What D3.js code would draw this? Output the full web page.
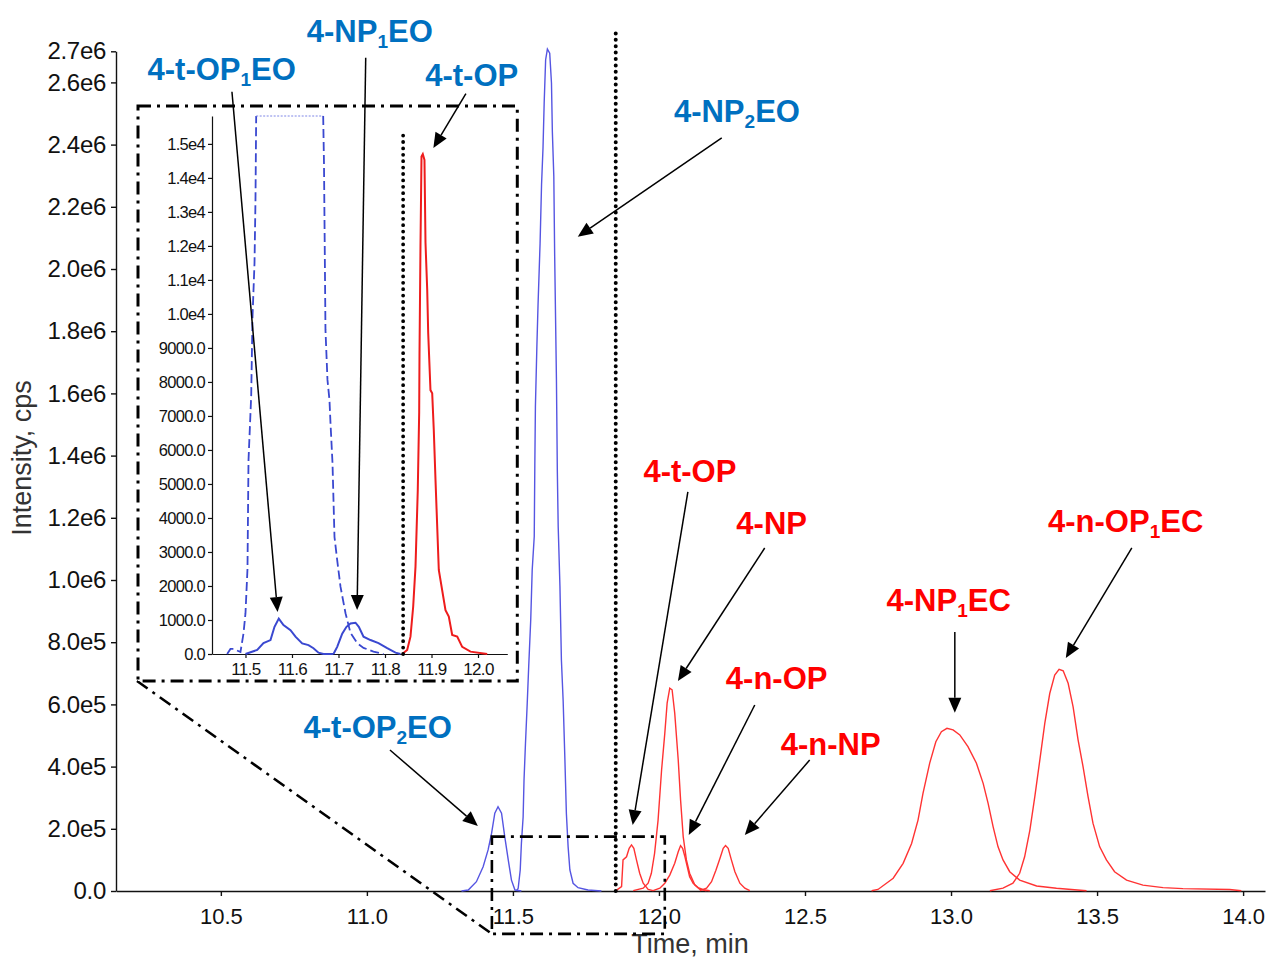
<!DOCTYPE html>
<html>
<head>
<meta charset="utf-8">
<script src="https://cdn.jsdelivr.net/npm/d3@7"></script>
<style>
  html, body { margin: 0; padding: 0; background: #fff; }
  svg { display: block; font-family: Arial, "Liberation Sans", sans-serif; }
</style>
</head>
<body>
<svg id="chart" width="1271" height="958"></svg>
<script>
// ---------- Main chromatogram traces: [retention time (min), intensity (cps)] ----------
const tOP2EO = [[11.324,0],[11.347,3200],[11.375,30000],[11.398,78000],[11.415,132000],[11.427,186000],
  [11.438,250000],[11.449,271000],[11.461,250000],[11.472,175000],[11.484,100000],[11.495,35000],
  [11.507,3000],[11.529,0]];

const np1EO = [[11.512,0],[11.518,8700],[11.525,67500],[11.529,153000],[11.535,239000],[11.538,357000],
  [11.543,475000],[11.549,604000],[11.554,721000],[11.561,872000],[11.566,1032000],[11.573,1140000],
  [11.575,1370000],[11.577,1558000],[11.582,1751000],[11.586,1885000],[11.593,2083000],[11.598,2271000],
  [11.603,2389000],[11.607,2534000],[11.612,2673000],[11.618,2707000],[11.626,2694000],[11.632,2598000],
  [11.635,2442000],[11.640,2298000],[11.643,2040000],[11.649,1644000],[11.652,1354000],[11.655,1172000],
  [11.661,979000],[11.666,743000],[11.672,611000],[11.678,421000],[11.683,250000],[11.689,142000],
  [11.695,67500],[11.706,24800],[11.723,10600],[11.757,3200],[11.803,0]];

const tOP = [[11.855,3000],[11.872,14000],[11.877,100000],[11.889,110000],[11.898,137000],[11.906,148000],
  [11.914,137000],[11.923,100000],[11.934,57000],[11.946,25000],[11.963,5000],[11.980,1000]];

const nP = [[11.912,1000],[11.946,9000],[11.963,25000],[11.974,57000],[11.985,121000],[11.997,228000],
  [12.009,389000],[12.020,507000],[12.028,604000],[12.037,652000],[12.045,647000],[12.054,572000],
  [12.066,421000],[12.074,293000],[12.083,175000],[12.094,100000],[12.105,57000],[12.123,19000],
  [12.140,5000],[12.163,1000]];

const nOP = [[11.980,1000],[12.003,9000],[12.020,25000],[12.037,51000],[12.054,89000],[12.066,126000],
  [12.074,146000],[12.081,137000],[12.089,110000],[12.097,78000],[12.105,46000],[12.117,25000],
  [12.134,11000],[12.157,3000],[12.174,1000]];

const nNP = [[12.140,1000],[12.163,9000],[12.180,30000],[12.195,67000],[12.209,105000],[12.220,137000],
  [12.228,146000],[12.237,137000],[12.248,100000],[12.260,62000],[12.277,25000],[12.294,9000],[12.311,1000]];

const np1EC = [[12.728,1000],[12.750,5000],[12.802,41000],[12.836,89000],[12.865,153000],[12.887,228000],
  [12.904,314000],[12.927,411000],[12.948,480000],[12.967,512000],[12.986,523000],[13.007,518000],
  [13.030,502000],[13.058,464000],[13.087,411000],[13.110,346000],[13.127,282000],[13.144,207000],
  [13.161,142000],[13.178,100000],[13.201,62000],[13.235,35000],[13.293,16000],[13.361,9000],[13.464,1000]];

const nOP1EC = [[13.133,1000],[13.178,9000],[13.212,25000],[13.235,57000],[13.252,110000],[13.270,196000],
  [13.287,304000],[13.304,421000],[13.321,539000],[13.338,635000],[13.355,694000],[13.370,713000],
  [13.384,708000],[13.401,668000],[13.418,592000],[13.435,486000],[13.452,400000],[13.469,304000],
  [13.486,218000],[13.509,142000],[13.532,100000],[13.560,62000],[13.601,35000],[13.657,19000],
  [13.726,11000],[13.794,7500],[13.954,5000],[13.994,1000]];

// ---------- Enlarged view (11.43–12.06 min) ----------
const zoomNP1EORise = [[11.4606,0],[11.4677,150],[11.4742,150],[11.4892,60],[11.4957,600],[11.5000,1200],
  [11.5043,2500],[11.5065,5700],[11.5108,7100],[11.5123,7600],[11.5151,9900],[11.5194,11500],
  [11.5215,13350],[11.5230,15820]];
const zoomNP1EOTop = [[11.5230,15820],[11.6671,15820]];
const zoomNP1EOFall = [[11.6671,15820],[11.6688,14440],[11.6699,12760],[11.6720,9530],[11.6763,8060],
  [11.6806,7470],[11.6828,6790],[11.6871,5620],[11.6914,3440],[11.6972,2760],[11.7043,1980],
  [11.7151,1200],[11.7258,620],[11.7402,320],[11.7538,180],[11.7753,70],[11.7968,0]];

const zoomTOP1EO = [[11.5000,0],[11.5252,120],[11.5387,320],[11.5538,410],[11.5624,800],[11.5716,1040],
  [11.5817,850],[11.5968,700],[11.6075,510],[11.6219,310],[11.6355,260],[11.6462,170],[11.6570,40],
  [11.6677,0],[11.6892,0]];
const zoomNP1EOLow = [[11.6892,0],[11.6972,210],[11.7080,600],[11.7172,800],[11.7258,900],[11.7366,920],
  [11.7437,800],[11.7538,510],[11.7688,410],[11.7860,320],[11.8047,170],[11.8226,40],[11.8333,0]];

const zoomTOP = [[11.8370,0],[11.8477,120],[11.8548,510],[11.8606,1390],[11.8656,2570],[11.8705,4820],
  [11.8735,7090],[11.8742,8850],[11.8763,11980],[11.8785,14630],[11.8813,14700],[11.8849,14530],
  [11.8871,12090],[11.8908,10700],[11.8929,9440],[11.8978,7760],[11.9015,7670],[11.9049,6590],
  [11.9086,5120],[11.9157,2470],[11.9301,1290],[11.9372,1100],[11.9445,560],[11.9553,510],
  [11.9660,210],[11.9839,70],[12.0198,0]];

// ---------- Axis ticks ----------
const xMainTicks = [10.5, 11.0, 11.5, 12.0, 12.5, 13.0, 13.5, 14.0];
const yMainTicks = [0, 2e5, 4e5, 6e5, 8e5, 1e6, 1.2e6, 1.4e6, 1.6e6, 1.8e6, 2.0e6, 2.2e6, 2.4e6, 2.6e6, 2.7e6];
const yMainLabels = ["0.0","2.0e5","4.0e5","6.0e5","8.0e5","1.0e6","1.2e6","1.4e6","1.6e6","1.8e6",
  "2.0e6","2.2e6","2.4e6","2.6e6","2.7e6"];
const xZoomTicks = [11.5, 11.6, 11.7, 11.8, 11.9, 12.0];
const yZoomTicks = [0,1000,2000,3000,4000,5000,6000,7000,8000,9000,10000,11000,12000,13000,14000,15000];
const yZoomLabels = ["0.0","1000.0","2000.0","3000.0","4000.0","5000.0","6000.0","7000.0","8000.0",
  "9000.0","1.0e4","1.1e4","1.2e4","1.3e4","1.4e4","1.5e4"];

// Marker times (dotted lines) and the enlarged window
const splitTime = 11.852;
const zoomSplitTime = 11.839;
const zoomWindowTime = [11.428, 12.02];
const zoomWindowIntensity = [-1.38e5, 1.75e5];

// ---------- Peak labels ----------
const peakNames = [
  ["4-NP","1","EO"], ["4-t-OP","1","EO"], ["4-t-OP","",""], ["4-NP","2","EO"], ["4-t-OP","2","EO"],
  ["4-t-OP","",""], ["4-NP","",""], ["4-n-OP","",""], ["4-n-NP","",""], ["4-NP","1","EC"], ["4-n-OP","1","EC"]
];
const peakTone = ["blue","blue","blue","blue","blue","red","red","red","red","red","red"];
// label anchor, arrow tail, arrow head (main time/intensity; head in enlarged view when flagged)
const labelAt = [[11.010,2.731e6],[10.503,2.609e6],[11.359,2.589e6],[12.267,2.474e6],[11.037,4.92e5],
  [12.106,1.316e6],[12.386,1.148e6],[12.403,6.50e5],[12.588,4.37e5],[12.992,9.01e5],[13.598,1.155e6]];
const arrowFrom = [[10.996,2.679e6],[10.538,2.570e6],[11.339,2.564e6],[12.215,2.422e6],[11.079,4.535e5],
  [12.099,1.283e6],[12.362,1.103e6],[12.328,5.98e5],[12.516,4.21e5],[13.013,8.33e5],[13.619,1.103e6]];
const arrowTo = [[11.740,1294],[11.569,1235],[11.904,14880],[11.722,2.104e6],[11.380,2.09e5],
  [11.910,2.12e5],[12.065,6.75e5],[12.102,1.80e5],[12.294,1.80e5],[13.013,5.73e5],[13.393,7.49e5]];
const arrowIntoZoom = [true,true,true,false,false,false,false,false,false,false,false];

// ---------- Drawing ----------
const svg = d3.select("#chart");
svg.append("rect").attr("width",1271).attr("height",958).attr("fill","#fff");

const x = d3.scaleLinear().domain([10.141, 14.075]).range([116, 1265]);
const y = d3.scaleLinear().domain([0, 2.7e6]).range([891, 51.3]);

const xz = d3.scaleLinear().domain([11.428, 12.063]).range([212, 507.3]);
const yz = d3.scaleLinear().domain([0, 15820]).range([654, 116]);

const BLUE = "#5555e2", RED = "#ff3333";
const ZBLUE = "#3a48d0", ZRED = "#ee1c1c";
const TONE = { blue: "#0070c0", red: "#ff0000" };
const FONT = "Arial, 'Liberation Sans', sans-serif";

const lineMain = d3.line().x(d => x(d[0])).y(d => y(d[1]));
const lineZoom = d3.line().x(d => xz(d[0])).y(d => yz(d[1]));

// Main axes
const gx = svg.append("g").attr("transform", `translate(0,${y(0)})`);
gx.call(d3.axisBottom(x).tickValues(d3.range(102, 141).map(v => v / 10)).tickSize(3).tickFormat("").tickSizeOuter(0));
gx.call(d3.axisBottom(x).tickValues(xMainTicks).tickSize(5).tickPadding(12).tickFormat(d3.format(".1f")).tickSizeOuter(0));
gx.selectAll("text").attr("font-size", 22).attr("fill", "#111").attr("font-family", FONT);

const gy = svg.append("g").attr("transform", `translate(${x.range()[0]},0)`);
gy.call(d3.axisLeft(y).tickValues(d3.range(1, 27, 2).map(v => v * 1e5)).tickSize(3).tickFormat("").tickSizeOuter(0));
gy.call(d3.axisLeft(y).tickValues(yMainTicks).tickSize(5).tickPadding(5)
  .tickFormat((d, i) => yMainLabels[i]).tickSizeOuter(0));
gy.selectAll("text").attr("font-size", 24).attr("fill", "#111").attr("letter-spacing", "-0.3")
  .attr("font-family", FONT);
svg.selectAll(".domain, .tick line").attr("stroke", "#111").attr("stroke-width", 1.4);

// Axis titles
svg.append("text").attr("x", 690).attr("y", 953).attr("text-anchor", "middle")
  .attr("font-size", 27).attr("fill", "#333").text("Time, min");
svg.append("text").attr("transform", "translate(31,458) rotate(-90)").attr("text-anchor", "middle")
  .attr("font-size", 27).attr("fill", "#333").text("Intensity, cps");

// Main traces
const blueTraces = [tOP2EO, np1EO];
const redTraces = [tOP, nP, nOP, nNP, np1EC, nOP1EC];
svg.append("g").selectAll("path").data(blueTraces).join("path")
  .attr("d", lineMain).attr("fill", "none").attr("stroke", BLUE).attr("stroke-width", 1.4);
svg.append("g").selectAll("path").data(redTraces).join("path")
  .attr("d", lineMain).attr("fill", "none").attr("stroke", RED).attr("stroke-width", 1.4);

// Dotted separator in the main view
svg.append("path").attr("d", lineMain([[splitTime, 0], [splitTime, 2.763e6]]))
  .attr("stroke", "#000").attr("stroke-width", 4).attr("stroke-linecap", "round")
  .attr("stroke-dasharray", "0,6.4").attr("fill", "none");

// Enlarged-window outline and its connector
const dashDot = "13,6,3,6";
const wx0 = x(zoomWindowTime[0]), wx1 = x(zoomWindowTime[1]);
const wy0 = y(zoomWindowIntensity[1]), wy1 = y(zoomWindowIntensity[0]);
svg.append("rect").attr("x", wx0).attr("y", wy0).attr("width", wx1 - wx0).attr("height", wy1 - wy0)
  .attr("fill", "none").attr("stroke", "#000").attr("stroke-width", 2.6).attr("stroke-dasharray", dashDot);

// Inset frame around the enlarged view
const frame = { x0: xz.range()[0] - 75, x1: xz.range()[1] + 10, y0: yz.range()[1] - 10, y1: yz.range()[0] + 27 };
svg.append("line").attr("x1", frame.x0).attr("y1", frame.y1).attr("x2", wx0).attr("y2", wy1)
  .attr("stroke", "#000").attr("stroke-width", 2.6).attr("stroke-dasharray", dashDot);
svg.append("rect").attr("x", frame.x0 + 1).attr("y", frame.y0).attr("width", frame.x1 - frame.x0 - 1)
  .attr("height", frame.y1 - frame.y0).attr("fill", "#fff")
  .attr("stroke", "#000").attr("stroke-width", 3).attr("stroke-dasharray", dashDot);

// Inset axes
const gxz = svg.append("g").attr("transform", `translate(0,${yz(0)})`);
gxz.call(d3.axisBottom(xz).tickValues(d3.range(229, 241, 1).map(v => v / 20)).tickSize(2).tickFormat("").tickSizeOuter(0));
gxz.call(d3.axisBottom(xz).tickValues(xZoomTicks).tickSize(4).tickPadding(5)
  .tickFormat(d3.format(".1f")).tickSizeOuter(0));
gxz.selectAll("text").attr("font-size", 17).attr("fill", "#111").attr("letter-spacing", "-0.6")
  .attr("font-family", FONT);
const gyz = svg.append("g").attr("transform", `translate(${xz.range()[0]},0)`);
gyz.call(d3.axisLeft(yz).tickValues(d3.range(1, 32, 2).map(v => v * 500)).tickSize(2).tickFormat("").tickSizeOuter(0));
gyz.call(d3.axisLeft(yz).tickValues(yZoomTicks).tickSize(4).tickPadding(3)
  .tickFormat((d, i) => yZoomLabels[i]).tickSizeOuter(0));
gyz.selectAll("text").attr("font-size", 16.5).attr("fill", "#111").attr("letter-spacing", "-0.7")
  .attr("font-family", FONT);
gxz.selectAll(".domain, .tick line").attr("stroke", "#111").attr("stroke-width", 1.2);
gyz.selectAll(".domain, .tick line").attr("stroke", "#111").attr("stroke-width", 1.2);

// Inset traces
const gz = svg.append("g");
gz.append("path").attr("d", lineZoom(zoomNP1EORise)).attr("fill", "none").attr("stroke", ZBLUE)
  .attr("stroke-width", 1.8).attr("stroke-dasharray", "9,4");
gz.append("path").attr("d", lineZoom(zoomNP1EOTop)).attr("fill", "none").attr("stroke", "#7f86e6")
  .attr("stroke-width", 1).attr("stroke-dasharray", "2,1.5");
gz.append("path").attr("d", lineZoom(zoomNP1EOFall)).attr("fill", "none").attr("stroke", ZBLUE)
  .attr("stroke-width", 1.8).attr("stroke-dasharray", "9,4");
gz.selectAll(".solid").data([zoomTOP1EO, zoomNP1EOLow]).join("path").attr("class", "solid")
  .attr("d", lineZoom).attr("fill", "none").attr("stroke", ZBLUE).attr("stroke-width", 2);
gz.append("path").attr("d", lineZoom(zoomTOP)).attr("fill", "none").attr("stroke", ZRED).attr("stroke-width", 2);
gz.append("path").attr("d", lineZoom([[zoomSplitTime, 0], [zoomSplitTime, 15300]]))
  .attr("stroke", "#000").attr("stroke-width", 3.8).attr("stroke-linecap", "round")
  .attr("stroke-dasharray", "0,6.4").attr("fill", "none");

// Arrows and peak labels
const ga = svg.append("g");
peakNames.forEach((name, i) => {
  const x1 = x(arrowFrom[i][0]), y1 = y(arrowFrom[i][1]);
  const x2 = arrowIntoZoom[i] ? xz(arrowTo[i][0]) : x(arrowTo[i][0]);
  const y2 = arrowIntoZoom[i] ? yz(arrowTo[i][1]) : y(arrowTo[i][1]);
  const ang = Math.atan2(y2 - y1, x2 - x1);
  const hl = 15, hw = 6.5;
  const bx = x2 - hl * Math.cos(ang), by = y2 - hl * Math.sin(ang);
  ga.append("line").attr("x1", x1).attr("y1", y1).attr("x2", bx).attr("y2", by)
    .attr("stroke", "#000").attr("stroke-width", 1.5);
  const px = -Math.sin(ang) * hw, py = Math.cos(ang) * hw;
  ga.append("polygon")
    .attr("points", [[x2, y2], [bx + px, by + py], [bx - px, by - py]].map(p => p.join(",")).join(" "))
    .attr("fill", "#000");

  const t = ga.append("text").attr("x", x(labelAt[i][0])).attr("y", y(labelAt[i][1]))
    .attr("text-anchor", "middle").attr("font-size", 31).attr("font-weight", "bold")
    .attr("fill", TONE[peakTone[i]]);
  t.append("tspan").text(name[0]);
  if (name[1]) {
    t.append("tspan").attr("font-size", 19).attr("dy", 6).text(name[1]);
    t.append("tspan").attr("dy", -6).text(name[2]);
  }
});
</script>
</body>
</html>
